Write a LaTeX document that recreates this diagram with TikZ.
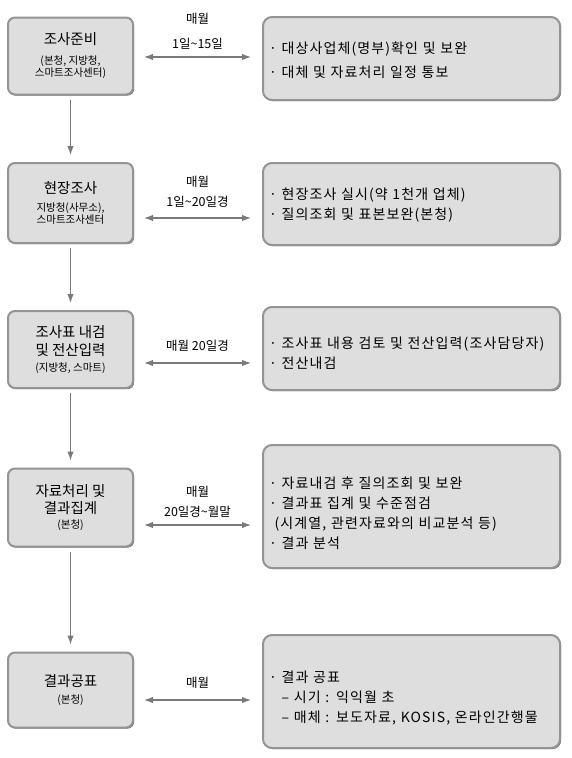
\documentclass[tikz,border=0pt]{standalone}
\usepackage{fontspec}
\setmainfont{Noto Sans CJK KR}
\usetikzlibrary{positioning,arrows.meta,shadows}
\newcommand{\stagetitle}{\fontsize{14.5}{17}\selectfont}
\newcommand{\stagenote}{\fontsize{10.5}{12.5}\selectfont}
\newcommand{\tasktext}{\fontsize{14}{20}\selectfont\addfontfeature{LetterSpace=8}}
\tikzset{
    stage/.style = {
        draw=black!42,
        fill=black!13,
        shape=rectangle,
        rounded corners=7pt,
        minimum width=125pt,
        minimum height=77pt,
        line width=2pt,
        align=center,
        inner sep=2pt,
        font=\stagenote,
        drop shadow={shadow xshift=1.2pt, shadow yshift=-1.2pt, fill=black!60, opacity=0.9}
    },
    task/.style = {
        draw=black!42,
        fill=black!13,
        shape=rectangle,
        rounded corners=9pt,
        text width=285pt,
        inner xsep=6pt,
        line width=2pt,
        align=left,
        font=\tasktext,
        drop shadow={shadow xshift=1.2pt, shadow yshift=-1.2pt, fill=black!60, opacity=0.9}
    },
    period/.style = {
        align=center,
        font=\fontsize{12.5}{20}\selectfont
    },
    flow/.style = {
        draw=black!52,
        line width=1.2pt
    },
    >={Latex[length=9pt,width=6.5pt]},
}

\begin{document}
\begin{tikzpicture}[x=1pt,y=-1pt]
            \useasboundingbox (0,0) rectangle (571,758);

            \node[stage] (prep) at (70.5,56) {{\stagetitle 조사준비}\\[7pt](본청, 지방청,\\스마트조사센터)};
            \node[stage, minimum height=80pt] (field) at (70.5,203) {{\stagetitle 현장조사}\\[5pt]지방청(사무소),\\스마트조사센터};
            \node[stage] (entry) at (70.5,349.5) {{\stagetitle 조사표 내검}\\[4pt]{\stagetitle 및 전산입력}\\[4pt](지방청, 스마트)};
            \node[stage, minimum height=78pt] (proc) at (70.5,507.5) {{\stagetitle 자료처리 및}\\[3pt]{\stagetitle 결과집계}\\[3pt](본청)};
            \node[stage, minimum height=75pt] (pub) at (70.5,690) {{\stagetitle 결과공표}\\[4pt](본청)};

            \node[task, minimum height=83pt] (prepjob) at (411.5,58.5) {\rule{0pt}{16pt}· 대상사업체(명부)확인 및 보완\\[4pt]· 대체 및 자료처리 일정 통보};
            \node[task, minimum height=82pt] (fieldjob) at (411.5,204) {\rule{0pt}{13pt}· 현장조사 실시(약 1천개 업체)\\· 질의조회 및 표본보완(본청)};
            \node[task, minimum height=83pt] (entryjob) at (411.5,348.5) {\rule{0pt}{22pt}· 조사표 내용 검토 및 전산입력(조사담당자)\\· 전산내검};
            \node[task, minimum height=123pt] (procjob) at (411.5,506.5) {\rule{0pt}{26pt}· 자료내검 후 질의조회 및 보완\\· 결과표 집계 및 수준점검\\\hspace*{0.4em}(시계열, 관련자료와의 비교분석 등)\\· 결과 분석};
            \node[task, minimum height=113pt] (pubjob) at (411.5,691.5) {\rule{0pt}{24pt}· 결과 공표\\\hspace*{0.9em}– 시기 : 익익월 초\\\hspace*{0.9em}– 매체 : 보도자료, KOSIS, 온라인간행물};

            % heights of the two-way arrows
            \coordinate (h1) at (0,57);
            \coordinate (h2) at (0,218);
            \coordinate (h3) at (0,363);
            \coordinate (h4) at (0,525);
            \coordinate (h5) at (0,700);

            \path[draw, ->, flow, shorten <=4pt, shorten >=7pt] (prep) -- (field);
            \path[draw, ->, flow, shorten <=4pt, shorten >=7pt] (field) -- (entry);
            \path[draw, ->, flow, shorten <=4pt, shorten >=7pt] (entry) -- (proc);
            \path[draw, ->, flow, shorten <=4pt, shorten >=7pt] (proc) -- (pub);

            \path[draw, <->, flow] ([xshift=10pt]prep.east |- h1) -- ([xshift=-11pt]prepjob.west |- h1) node [midway, above=4pt, period] {매월\\[5pt]1일\textasciitilde{}15일};
            \path[draw, <->, flow] ([xshift=10pt]field.east |- h2) -- ([xshift=-11pt]fieldjob.west |- h2) node [midway, above=7pt, period] {매월\\1일\textasciitilde{}20일경};
            \path[draw, <->, flow] ([xshift=10pt]entry.east |- h3) -- ([xshift=-11pt]entryjob.west |- h3) node [midway, above=8pt, period] {매월 20일경};
            \path[draw, <->, flow] ([xshift=10pt]proc.east |- h4) -- ([xshift=-11pt]procjob.west |- h4) node [midway, above=4pt, period] {매월\\20일경\textasciitilde{}월말};
            \path[draw, <->, flow] ([xshift=10pt]pub.east |- h5) -- ([xshift=-11pt]pubjob.west |- h5) node [midway, above=8pt, period] {매월};

        \end{tikzpicture}
\end{document}
